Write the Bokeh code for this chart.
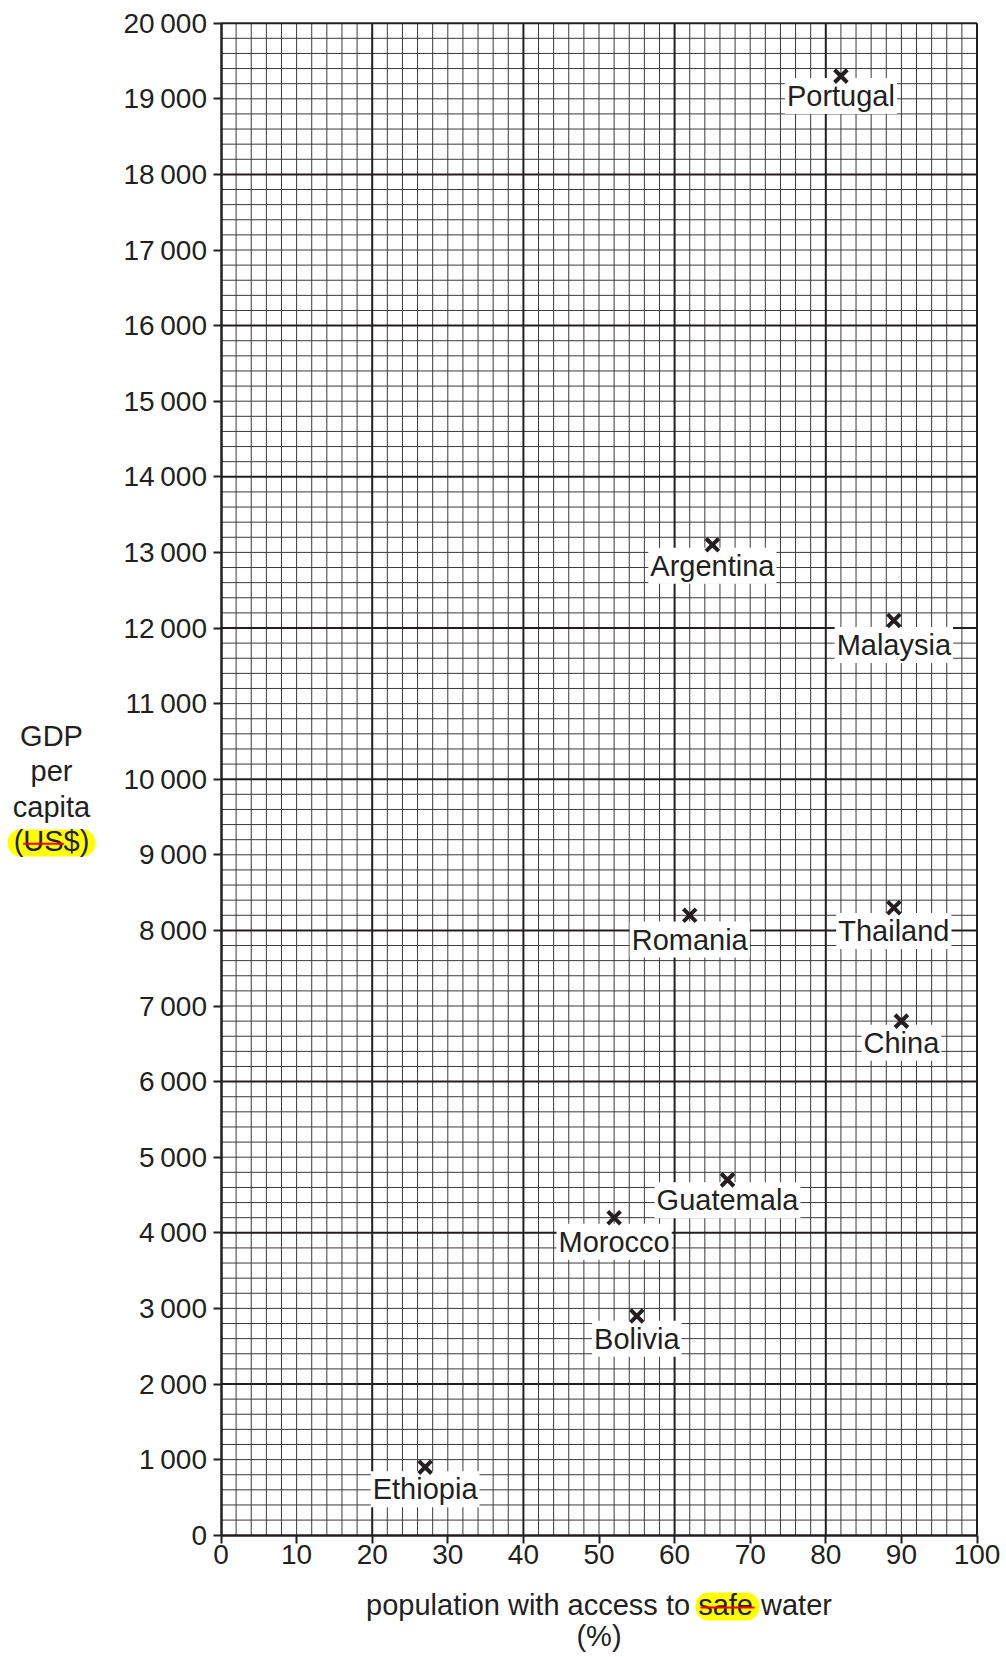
from bokeh.plotting import figure
from bokeh.models import Range1d, FixedTicker, ColumnDataSource
from bokeh.embed import file_html
from bokeh.resources import INLINE
from bokeh.core.properties import value

# ---------------- data ----------------
countries = ["Portugal", "Argentina", "Malaysia", "Romania", "Thailand",
             "China", "Guatemala", "Morocco", "Bolivia", "Ethiopia"]
water_pct = [82, 65, 89, 62, 89, 90, 67, 52, 55, 27]
gdp_per_capita = [19300, 13100, 12100, 8200, 8300, 6800, 4700, 4200, 2900, 900]

x_ticks = [0, 10, 20, 30, 40, 50, 60, 70, 80, 90, 100]
x_tick_labels = ["0", "10", "20", "30", "40", "50", "60", "70", "80", "90", "100"]
y_ticks = [0, 1000, 2000, 3000, 4000, 5000, 6000, 7000, 8000, 9000, 10000,
           11000, 12000, 13000, 14000, 15000, 16000, 17000, 18000, 19000, 20000]
T = "\u2009"
y_tick_labels = ["0", "1" + T + "000", "2" + T + "000", "3" + T + "000", "4" + T + "000",
                 "5" + T + "000", "6" + T + "000", "7" + T + "000", "8" + T + "000",
                 "9" + T + "000", "10" + T + "000", "11" + T + "000", "12" + T + "000",
                 "13" + T + "000", "14" + T + "000", "15" + T + "000", "16" + T + "000",
                 "17" + T + "000", "18" + T + "000", "19" + T + "000", "20" + T + "000"]

# ---------------- layout (page pixels -> data) ----------------
W, H = 1004, 1654
X0, KX = 220.5, 7.56      # page px of x=0, px per unit
Y0, KY = 1534.7, 0.0756   # page px of y=0, px per unit
TXT = -10                 # text baseline correction (px)


def dx(px):
    return (px - X0) / KX


def dy(py):
    return (Y0 - py) / KY


INK = "#231f20"
FONT = value("Liberation Sans")

p = figure(width=W, height=H,
           x_range=Range1d(dx(0), dx(W)),
           y_range=Range1d(dy(H), dy(0)),
           output_backend="svg", toolbar_location=None,
           min_border=0, min_border_left=0, min_border_right=0,
           min_border_top=0, min_border_bottom=0,
           outline_line_color=None,
           background_fill_color="white", border_fill_color="white")
p.grid.visible = False

# axes
xa = p.xaxis[0]
xa.fixed_location = 0
xa.bounds = (0, 100)
xa.ticker = FixedTicker(ticks=x_ticks)
xa.major_label_overrides = {t: l for t, l in zip(x_ticks, x_tick_labels)}
ya = p.yaxis[0]
ya.fixed_location = 0
ya.bounds = (0, 20000)
ya.ticker = FixedTicker(ticks=y_ticks)
ya.major_label_overrides = {t: l for t, l in zip(y_ticks, y_tick_labels)}
for ax, so in ((xa, 2), (ya, 6)):
    ax.axis_line_color = INK
    ax.axis_line_width = 2.5
    ax.major_tick_line_color = INK
    ax.major_tick_line_width = 2
    ax.major_tick_in = 0
    ax.major_tick_out = 8
    ax.minor_tick_line_color = None
    ax.major_label_standoff = so
    ax.major_label_text_font = "Liberation Sans"
    ax.major_label_text_font_size = "28px"
    ax.major_label_text_color = INK

# graph-paper grid
minor_x = [v for v in range(0, 101, 2) if v % 20 != 0]
major_x = [v for v in range(20, 101, 20)]
minor_y = [v for v in range(200, 20001, 200) if v % 2000 != 0]
major_y = [v for v in range(2000, 20001, 2000)]
p.segment(x0=minor_x, x1=minor_x, y0=[0] * len(minor_x), y1=[20000] * len(minor_x),
          line_color="#3a3a3a", line_width=1)
p.segment(x0=[0] * len(minor_y), x1=[100] * len(minor_y), y0=minor_y, y1=minor_y,
          line_color="#3a3a3a", line_width=1)
p.segment(x0=major_x, x1=major_x, y0=[0] * len(major_x), y1=[20000] * len(major_x),
          line_color=INK, line_width=2)
p.segment(x0=[0] * len(major_y), x1=[100] * len(major_y), y0=major_y, y1=major_y,
          line_color=INK, line_width=2)

# highlights behind axis-title words
hl = dict(left=[dx(7), dx(695)], right=[dx(95), dx(759)],
          top=[dy(829), dy(1592)], bottom=[dy(856), dy(1620)],
          fill_color="#ffff00", line_color=None)
try:
    p.quad(border_radius=13, **hl)
except Exception:
    p.quad(**hl)

# axis titles
p.text(x=[dx(51)] * 4,
       y=[dy(745 + TXT), dy(780.5 + TXT), dy(816 + TXT), dy(850 + TXT)],
       text=["GDP", "per", "capita", "(US$)"],
       text_align="center", text_baseline="alphabetic",
       text_font=FONT, text_font_size="29px", text_color=INK)
p.text(x=[dx(598.5), dx(598.5)], y=[dy(1614 + TXT), dy(1645 + TXT)],
       text=["population with access to safe water", "(%)"],
       text_align="center", text_baseline="alphabetic",
       text_font=FONT, text_font_size="29px", text_color=INK)

# red strike-through lines
p.segment(x0=[dx(22.7), dx(700)], x1=[dx(63.3), dx(754)],
          y0=[dy(843.3), dy(1607)], y1=[dy(843.3), dy(1607)],
          line_color="#ff0000", line_width=2)

# data
label_dy_px = [30, 31, 34.5, 34.3, 33.4, 31.7, 30.3, 34, 32.7, 32]
src = ColumnDataSource(dict(x=water_pct, y=gdp_per_capita, name=countries,
                            off=[d + TXT for d in label_dy_px]))
p.text(x="x", y="y", text="name", source=src, y_offset="off",
       text_align="center", text_baseline="alphabetic",
       text_font=FONT, text_font_size="29px", text_color=INK,
       background_fill_color="white", padding=2)
p.scatter(x="x", y="y", source=src, marker="x", size=18, line_width=4,
          line_color=INK)

open("out.html", "w").write(file_html(p, INLINE))
